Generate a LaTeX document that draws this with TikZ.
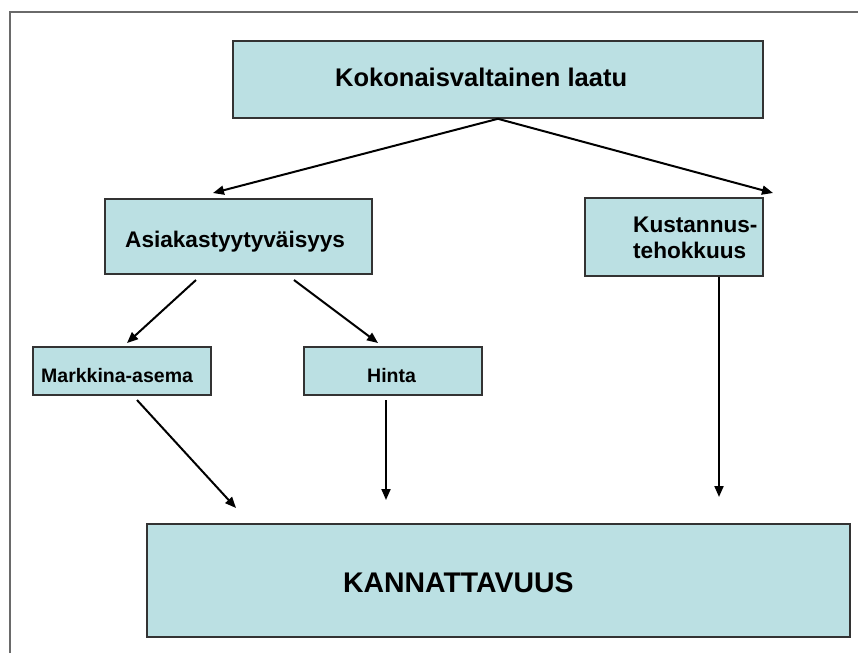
\documentclass[tikz,border=0pt]{standalone}
\usepackage{fontspec}
\setmainfont{Liberation Sans}
\usetikzlibrary{arrows.meta}
\definecolor{boxfill}{HTML}{BBE0E3}
\definecolor{boxline}{HTML}{333333}
\definecolor{framegray}{HTML}{6A6A6A}
\begin{document}
\begin{tikzpicture}[x=1pt,y=-1pt,
  box/.style={draw=boxline, fill=boxfill, line width=1.8pt, inner sep=0pt, anchor=north west},
  lbl/.style={inner sep=0pt, anchor=base west, font=\bfseries},
  arr/.style={line width=2pt, -{Triangle[length=11pt,width=9pt]}}]
\useasboundingbox (0,0) rectangle (858,653);
% frame
\draw[framegray, line width=1.4pt] (10,653) -- (10,12) -- (858,12);
% boxes
\node[box, minimum width=530pt, minimum height=77pt] (top) at (232,40) {};
\node[box, minimum width=267pt, minimum height=75pt] (asi) at (104,198) {};
\node[box, minimum width=178pt, minimum height=78pt] (kus) at (584,197) {};
\node[box, minimum width=178pt, minimum height=48pt] (mar) at (32,346) {};
\node[box, minimum width=178pt, minimum height=48pt] (hin) at (303,346) {};
\node[box, minimum width=703pt, minimum height=113pt] (kan) at (146,523) {};
% texts
\node[lbl, font=\bfseries\fontsize{25.5}{30}\selectfont] (tTop) at (335,86) {Kokonaisvaltainen laatu};
\node[lbl, font=\bfseries\fontsize{22.6}{26}\selectfont] (tAsi) at (125,247) {Asiakastyytyväisyys};
\node[inner sep=0pt, anchor=north west, align=left, font=\bfseries\fontsize{22.6}{26}\selectfont] (tKus) at (633,217) {Kustannus-\\tehokkuus};
\node[lbl, font=\bfseries\fontsize{19.5}{23}\selectfont] (tMar) at (41,382) {Markkina-asema};
\node[lbl, font=\bfseries\fontsize{19.5}{23}\selectfont] (tHin) at (367,382) {Hinta};
\node[lbl, font=\bfseries\fontsize{28.4}{34}\selectfont] (tKan) at (343,592) {KANNATTAVUUS};
% connector end points
\coordinate (e1) at (213,193);
\coordinate (e2) at (773,193);
\coordinate (s3) at (196,280);
\coordinate (e3) at (127,343);
\coordinate (s4) at (294,280);
\coordinate (e4) at (378,343);
\coordinate (s5) at (137,400);
\coordinate (e5) at (236,508);
\coordinate (s6) at (386,400);
\coordinate (e6) at (386,500);
\coordinate (e7) at (719,497);
% connectors
\draw[arr] (top.south) -- (e1);
\draw[arr] (top.south) -- (e2);
\draw[arr] (s3) -- (e3);
\draw[arr] (s4) -- (e4);
\draw[arr] (s5) -- (e5);
\draw[arr] (s6) -- (e6);
\draw[arr] (kus.south west -| e7) -- (e7);
\end{tikzpicture}
\end{document}
